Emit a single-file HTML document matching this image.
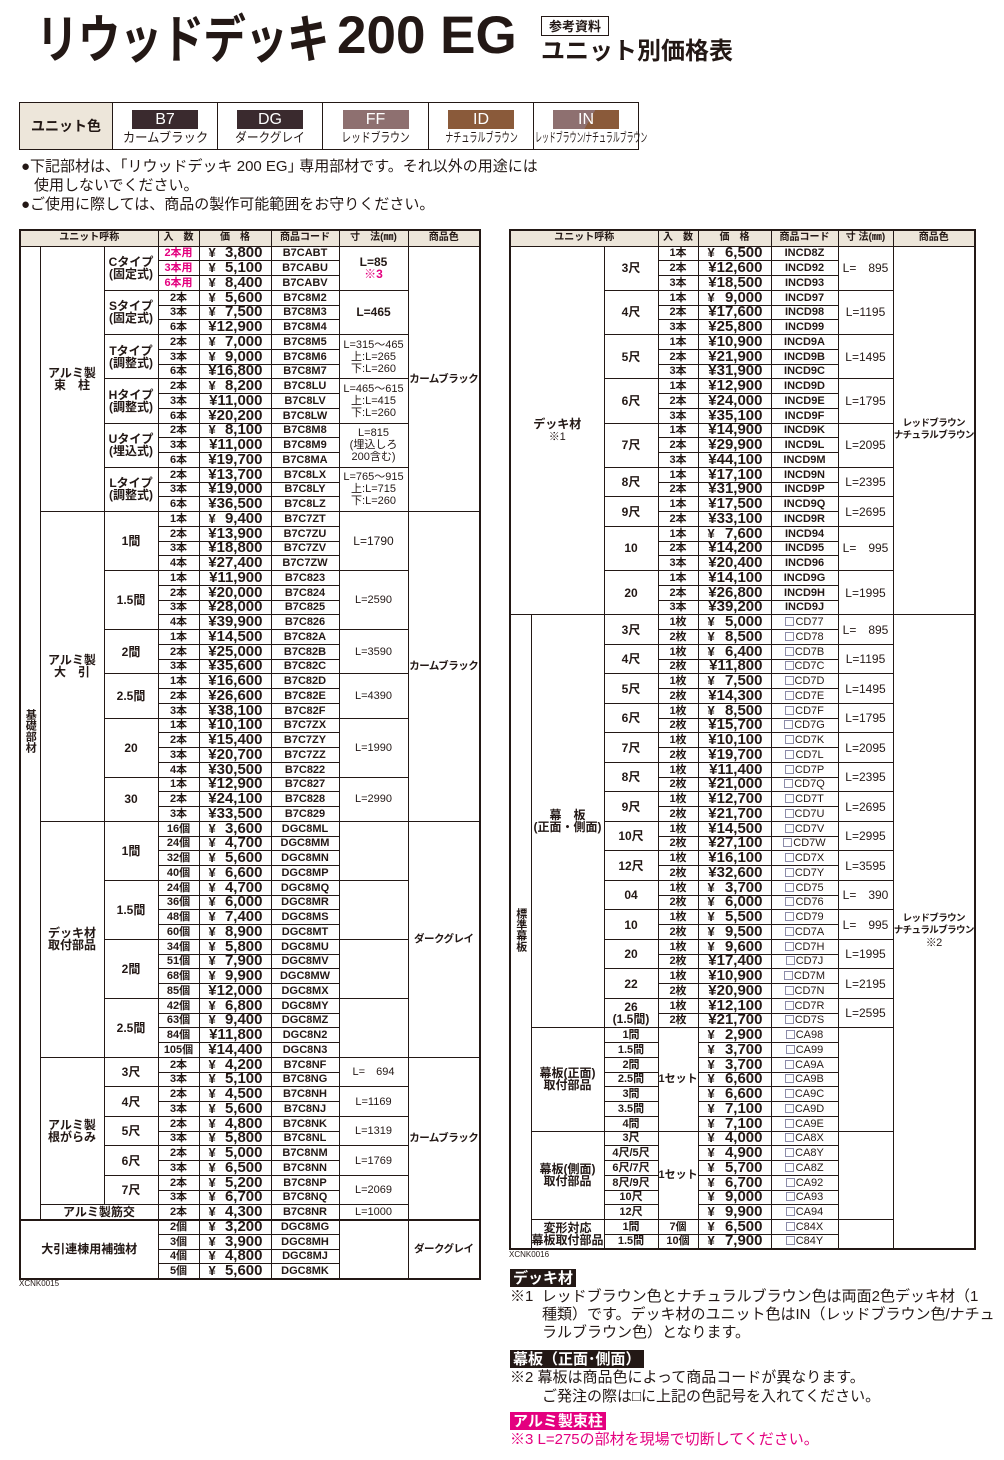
<!DOCTYPE html>
<html><head><meta charset="utf-8">
<style>
*{margin:0;padding:0;box-sizing:border-box}
body{width:1004px;height:1460px;background:#fff;position:relative;overflow:hidden;color:#231815;font-family:"Liberation Sans","Noto Sans CJK JP",sans-serif}
.abs{position:absolute}
.t1{left:36px;top:6px;font-size:52px;font-weight:bold;white-space:nowrap;line-height:60px;font-family:"Noto Sans CJK JP",sans-serif;transform:scaleX(0.82);transform-origin:left top;letter-spacing:-1px}
.t2{left:337px;top:6px;font-size:53px;font-weight:bold;line-height:60px;white-space:nowrap}
.ref{left:541px;top:16px;width:68px;height:20px;border:1.5px solid #231815;font-size:13px;font-weight:bold;text-align:center;line-height:17px;font-family:"Noto Sans CJK JP",sans-serif}
.sub{left:541px;top:33px;font-size:24px;font-weight:bold;line-height:32px;font-family:"Noto Sans CJK JP",sans-serif;white-space:nowrap}
table{border-collapse:collapse;table-layout:fixed;position:absolute}
td{border:1px solid #231815;padding:0;text-align:center;vertical-align:middle;overflow:hidden;white-space:nowrap;line-height:12px;font-size:11px;font-weight:bold;font-family:"Liberation Sans","Noto Sans CJK JP",sans-serif}
.ct td{line-height:14px;overflow:visible}
.hd td{background:#ede6da;font-size:10px;height:16px}
.p{font-size:15px;text-align:right;padding-right:8px}
.p span{float:left;margin-left:9px;font-size:13px}
.n{font-weight:normal;font-size:11px}
.pk{color:#e4007f}
.v{writing-mode:vertical-rl;text-orientation:upright;font-size:11px;letter-spacing:0}
.L tr{height:14.76px}
.R tr{height:14.76px}
.bx{display:inline-block;width:9px;height:9px;border:1px solid #8a8aa8;vertical-align:-1px;margin-right:1px}
.c{font-size:12px}
.col{font-size:10.5px;letter-spacing:-0.5px}
.colR{font-size:9.5px;letter-spacing:-0.6px;line-height:12px}
.note{font-size:15px;line-height:18.5px;white-space:nowrap;color:#231815;font-family:"Liberation Sans","Noto Sans CJK JP",sans-serif}
.lab{background:#231815;color:#fff;font-weight:bold;font-size:15px;line-height:18px;padding:0 3px;white-space:nowrap;font-family:"Noto Sans CJK JP",sans-serif}
.sw{margin:3px auto 2px;width:66px;height:19px;color:#fff;font-size:16px;font-weight:normal;line-height:19px}
.sl{font-size:13px;font-weight:normal;white-space:nowrap}
.sq{display:block;white-space:nowrap;transform-origin:center;font-size:13px;font-weight:normal}
</style></head><body>
<div class="abs t1">リウッドデッキ</div>
<div class="abs t2">200 EG</div>
<div class="abs ref">参考資料</div>
<div class="abs sub">ユニット別価格表</div>

<table class="ct" style="left:19px;top:102px;width:619px;height:48px;border:1.5px solid #231815">
<tr><td style="width:93px;background:#ede6da;font-size:14px">ユニット色</td>
<td style="width:105px"><div class="sw" style="background:#3a2a2e">B7</div><span class="sq" style="width:91px;margin-left:7px;transform:scaleX(0.95)">カームブラック</span></td>
<td style="width:105px"><div class="sw" style="background:#3a2a2e">DG</div><span class="sq" style="width:78px;margin-left:13px;transform:scaleX(0.9)">ダークグレイ</span></td>
<td style="width:106px"><div class="sw" style="background:#8e7070">FF</div><span class="sq" style="width:91px;margin-left:7px;transform:scaleX(0.75)">レッドブラウン</span></td>
<td style="width:105px"><div class="sw" style="background:#8a5a3a">ID</div><span class="sq" style="width:117px;margin-left:-6px;transform:scaleX(0.62)">ナチュラルブラウン</span></td>
<td style="width:105px"><div class="sw" style="background:linear-gradient(120deg,#8e7070 55%,#8a5a3a 55%)">IN</div><span class="sq" style="width:192px;margin-left:-44px;transform:scaleX(0.53)">レッドブラウン/ナチュラルブラウン</span></td></tr>
</table>

<div class="abs note" style="left:21px;top:158px">●下記部材は、｢リウッドデッキ 200 EG｣ 専用部材です。それ以外の用途には</div>
<div class="abs note" style="left:34px;top:177px">使用しないでください。</div>
<div class="abs note" style="left:21px;top:196px">●ご使用に際しては、商品の製作可能範囲をお守りください。</div>

<!-- LEFT TABLE -->
<table class="L" style="left:19px;top:229px;width:460px;border:2px solid #231815">
<colgroup><col style="width:20px"><col style="width:64px"><col style="width:54px"><col style="width:41px"><col style="width:72px"><col style="width:68px"><col style="width:69px"><col style="width:72px"></colgroup>
<tr class="hd"><td colspan="3">ユニット呼称</td><td>入　数</td><td>価　格</td><td>商品コード</td><td>寸　法(㎜)</td><td>商品色</td></tr>
<tr><td rowspan="66"><span class="v">基礎部材</span></td><td rowspan="18" class="c">アルミ製<br>束　柱</td><td rowspan="3" class="c">Cタイプ<br>(固定式)</td><td class="pk">2本用</td><td class="p"><span>¥</span>3,800</td><td>B7CABT</td><td rowspan="3" class="c">L=85<br><span class="pk">※3</span></td><td rowspan="18" class="col">カームブラック</td></tr>
<tr><td class="pk">3本用</td><td class="p"><span>¥</span>5,100</td><td>B7CABU</td></tr>
<tr><td class="pk">6本用</td><td class="p"><span>¥</span>8,400</td><td>B7CABV</td></tr>
<tr><td rowspan="3" class="c">Sタイプ<br>(固定式)</td><td>2本</td><td class="p"><span>¥</span>5,600</td><td>B7C8M2</td><td rowspan="3" class="c">L=465</td></tr>
<tr><td>3本</td><td class="p"><span>¥</span>7,500</td><td>B7C8M3</td></tr>
<tr><td>6本</td><td class="p">¥12,900</td><td>B7C8M4</td></tr>
<tr><td rowspan="3" class="c">Tタイプ<br>(調整式)</td><td>2本</td><td class="p"><span>¥</span>7,000</td><td>B7C8M5</td><td rowspan="3" class="n">L=315～465<br>上:L=265<br>下:L=260</td></tr>
<tr><td>3本</td><td class="p"><span>¥</span>9,000</td><td>B7C8M6</td></tr>
<tr><td>6本</td><td class="p">¥16,800</td><td>B7C8M7</td></tr>
<tr><td rowspan="3" class="c">Hタイプ<br>(調整式)</td><td>2本</td><td class="p"><span>¥</span>8,200</td><td>B7C8LU</td><td rowspan="3" class="n">L=465～615<br>上:L=415<br>下:L=260</td></tr>
<tr><td>3本</td><td class="p">¥11,000</td><td>B7C8LV</td></tr>
<tr><td>6本</td><td class="p">¥20,200</td><td>B7C8LW</td></tr>
<tr><td rowspan="3" class="c">Uタイプ<br>(埋込式)</td><td>2本</td><td class="p"><span>¥</span>8,100</td><td>B7C8M8</td><td rowspan="3" class="n">L=815<br>(埋込しろ<br>200含む)</td></tr>
<tr><td>3本</td><td class="p">¥11,000</td><td>B7C8M9</td></tr>
<tr><td>6本</td><td class="p">¥19,700</td><td>B7C8MA</td></tr>
<tr><td rowspan="3" class="c">Lタイプ<br>(調整式)</td><td>2本</td><td class="p">¥13,700</td><td>B7C8LX</td><td rowspan="3" class="n">L=765～915<br>上:L=715<br>下:L=260</td></tr>
<tr><td>3本</td><td class="p">¥19,000</td><td>B7C8LY</td></tr>
<tr><td>6本</td><td class="p">¥36,500</td><td>B7C8LZ</td></tr>

<tr><td rowspan="21" class="c">アルミ製<br>大　引</td><td rowspan="4" class="c">1間</td><td>1本</td><td class="p"><span>¥</span>9,400</td><td>B7C7ZT</td><td rowspan="4" class="c n">L=1790</td><td rowspan="21" class="col">カームブラック</td></tr>
<tr><td>2本</td><td class="p">¥13,900</td><td>B7C7ZU</td></tr>
<tr><td>3本</td><td class="p">¥18,800</td><td>B7C7ZV</td></tr>
<tr><td>4本</td><td class="p">¥27,400</td><td>B7C7ZW</td></tr>
<tr><td rowspan="4" class="c">1.5間</td><td>1本</td><td class="p">¥11,900</td><td>B7C823</td><td rowspan="4" class="n">L=2590</td></tr>
<tr><td>2本</td><td class="p">¥20,000</td><td>B7C824</td></tr>
<tr><td>3本</td><td class="p">¥28,000</td><td>B7C825</td></tr>
<tr><td>4本</td><td class="p">¥39,900</td><td>B7C826</td></tr>
<tr><td rowspan="3" class="c">2間</td><td>1本</td><td class="p">¥14,500</td><td>B7C82A</td><td rowspan="3" class="n">L=3590</td></tr>
<tr><td>2本</td><td class="p">¥25,000</td><td>B7C82B</td></tr>
<tr><td>3本</td><td class="p">¥35,600</td><td>B7C82C</td></tr>
<tr><td rowspan="3" class="c">2.5間</td><td>1本</td><td class="p">¥16,600</td><td>B7C82D</td><td rowspan="3" class="n">L=4390</td></tr>
<tr><td>2本</td><td class="p">¥26,600</td><td>B7C82E</td></tr>
<tr><td>3本</td><td class="p">¥38,100</td><td>B7C82F</td></tr>
<tr><td rowspan="4" class="c">20</td><td>1本</td><td class="p">¥10,100</td><td>B7C7ZX</td><td rowspan="4" class="n">L=1990</td></tr>
<tr><td>2本</td><td class="p">¥15,400</td><td>B7C7ZY</td></tr>
<tr><td>3本</td><td class="p">¥20,700</td><td>B7C7ZZ</td></tr>
<tr><td>4本</td><td class="p">¥30,500</td><td>B7C822</td></tr>
<tr><td rowspan="3" class="c">30</td><td>1本</td><td class="p">¥12,900</td><td>B7C827</td><td rowspan="3" class="n">L=2990</td></tr>
<tr><td>2本</td><td class="p">¥24,100</td><td>B7C828</td></tr>
<tr><td>3本</td><td class="p">¥33,500</td><td>B7C829</td></tr>

<tr><td rowspan="16" class="c">デッキ材<br>取付部品</td><td rowspan="4" class="c">1間</td><td>16個</td><td class="p"><span>¥</span>3,600</td><td>DGC8ML</td><td rowspan="4"></td><td rowspan="16" class="col">ダークグレイ</td></tr>
<tr><td>24個</td><td class="p"><span>¥</span>4,700</td><td>DGC8MM</td></tr>
<tr><td>32個</td><td class="p"><span>¥</span>5,600</td><td>DGC8MN</td></tr>
<tr><td>40個</td><td class="p"><span>¥</span>6,600</td><td>DGC8MP</td></tr>
<tr><td rowspan="4" class="c">1.5間</td><td>24個</td><td class="p"><span>¥</span>4,700</td><td>DGC8MQ</td><td rowspan="4"></td></tr>
<tr><td>36個</td><td class="p"><span>¥</span>6,000</td><td>DGC8MR</td></tr>
<tr><td>48個</td><td class="p"><span>¥</span>7,400</td><td>DGC8MS</td></tr>
<tr><td>60個</td><td class="p"><span>¥</span>8,900</td><td>DGC8MT</td></tr>
<tr><td rowspan="4" class="c">2間</td><td>34個</td><td class="p"><span>¥</span>5,800</td><td>DGC8MU</td><td rowspan="4"></td></tr>
<tr><td>51個</td><td class="p"><span>¥</span>7,900</td><td>DGC8MV</td></tr>
<tr><td>68個</td><td class="p"><span>¥</span>9,900</td><td>DGC8MW</td></tr>
<tr><td>85個</td><td class="p">¥12,000</td><td>DGC8MX</td></tr>
<tr><td rowspan="4" class="c">2.5間</td><td>42個</td><td class="p"><span>¥</span>6,800</td><td>DGC8MY</td><td rowspan="4"></td></tr>
<tr><td>63個</td><td class="p"><span>¥</span>9,400</td><td>DGC8MZ</td></tr>
<tr><td>84個</td><td class="p">¥11,800</td><td>DGC8N2</td></tr>
<tr><td>105個</td><td class="p">¥14,400</td><td>DGC8N3</td></tr>

<tr><td rowspan="10" class="c">アルミ製<br>根がらみ</td><td rowspan="2" class="c">3尺</td><td>2本</td><td class="p"><span>¥</span>4,200</td><td>B7C8NF</td><td rowspan="2" class="n">L=　694</td><td rowspan="11" class="col">カームブラック</td></tr>
<tr><td>3本</td><td class="p"><span>¥</span>5,100</td><td>B7C8NG</td></tr>
<tr><td rowspan="2" class="c">4尺</td><td>2本</td><td class="p"><span>¥</span>4,500</td><td>B7C8NH</td><td rowspan="2" class="n">L=1169</td></tr>
<tr><td>3本</td><td class="p"><span>¥</span>5,600</td><td>B7C8NJ</td></tr>
<tr><td rowspan="2" class="c">5尺</td><td>2本</td><td class="p"><span>¥</span>4,800</td><td>B7C8NK</td><td rowspan="2" class="n">L=1319</td></tr>
<tr><td>3本</td><td class="p"><span>¥</span>5,800</td><td>B7C8NL</td></tr>
<tr><td rowspan="2" class="c">6尺</td><td>2本</td><td class="p"><span>¥</span>5,000</td><td>B7C8NM</td><td rowspan="2" class="n">L=1769</td></tr>
<tr><td>3本</td><td class="p"><span>¥</span>6,500</td><td>B7C8NN</td></tr>
<tr><td rowspan="2" class="c">7尺</td><td>2本</td><td class="p"><span>¥</span>5,200</td><td>B7C8NP</td><td rowspan="2" class="n">L=2069</td></tr>
<tr><td>3本</td><td class="p"><span>¥</span>6,700</td><td>B7C8NQ</td></tr>
<tr><td colspan="2" class="c">アルミ製筋交</td><td>2本</td><td class="p"><span>¥</span>4,300</td><td>B7C8NR</td><td class="n">L=1000</td></tr>
<tr style="border-top:2px solid #231815"><td colspan="3" rowspan="4" class="c">大引連棟用補強材</td><td>2個</td><td class="p"><span>¥</span>3,200</td><td>DGC8MG</td><td rowspan="4"></td><td rowspan="4" class="col">ダークグレイ</td></tr>
<tr><td>3個</td><td class="p"><span>¥</span>3,900</td><td>DGC8MH</td></tr>
<tr><td>4個</td><td class="p"><span>¥</span>4,800</td><td>DGC8MJ</td></tr>
<tr><td>5個</td><td class="p"><span>¥</span>5,600</td><td>DGC8MK</td></tr>
</table>
<div class="abs" style="left:19px;top:1279px;font-size:8px">XCNK0015</div>

<!-- RIGHT TABLE -->
<table class="R" style="left:509px;top:229px;width:465px;border:2px solid #231815">
<colgroup><col style="width:21px"><col style="width:73px"><col style="width:54px"><col style="width:40px"><col style="width:73px"><col style="width:67px"><col style="width:55px"><col style="width:82px"></colgroup>
<tr class="hd"><td colspan="3">ユニット呼称</td><td>入　数</td><td>価　格</td><td>商品コード</td><td>寸 法(㎜)</td><td>商品色</td></tr>
<tr><td colspan="2" rowspan="25" class="c">デッキ材<br><span class="n">※1</span></td><td rowspan="3" class="c">3尺</td><td>1本</td><td class="p"><span>¥</span>6,500</td><td>INCD8Z</td><td rowspan="3" class="c n">L=　895</td><td rowspan="25" class="colR">レッドブラウン<br>ナチュラルブラウン</td></tr>
<tr><td>2本</td><td class="p">¥12,600</td><td>INCD92</td></tr>
<tr><td>3本</td><td class="p">¥18,500</td><td>INCD93</td></tr>
<tr><td rowspan="3" class="c">4尺</td><td>1本</td><td class="p"><span>¥</span>9,000</td><td>INCD97</td><td rowspan="3" class="c n">L=1195</td></tr>
<tr><td>2本</td><td class="p">¥17,600</td><td>INCD98</td></tr>
<tr><td>3本</td><td class="p">¥25,800</td><td>INCD99</td></tr>
<tr><td rowspan="3" class="c">5尺</td><td>1本</td><td class="p">¥10,900</td><td>INCD9A</td><td rowspan="3" class="c n">L=1495</td></tr>
<tr><td>2本</td><td class="p">¥21,900</td><td>INCD9B</td></tr>
<tr><td>3本</td><td class="p">¥31,900</td><td>INCD9C</td></tr>
<tr><td rowspan="3" class="c">6尺</td><td>1本</td><td class="p">¥12,900</td><td>INCD9D</td><td rowspan="3" class="c n">L=1795</td></tr>
<tr><td>2本</td><td class="p">¥24,000</td><td>INCD9E</td></tr>
<tr><td>3本</td><td class="p">¥35,100</td><td>INCD9F</td></tr>
<tr><td rowspan="3" class="c">7尺</td><td>1本</td><td class="p">¥14,900</td><td>INCD9K</td><td rowspan="3" class="c n">L=2095</td></tr>
<tr><td>2本</td><td class="p">¥29,900</td><td>INCD9L</td></tr>
<tr><td>3本</td><td class="p">¥44,100</td><td>INCD9M</td></tr>
<tr><td rowspan="2" class="c">8尺</td><td>1本</td><td class="p">¥17,100</td><td>INCD9N</td><td rowspan="2" class="c n">L=2395</td></tr>
<tr><td>2本</td><td class="p">¥31,900</td><td>INCD9P</td></tr>
<tr><td rowspan="2" class="c">9尺</td><td>1本</td><td class="p">¥17,500</td><td>INCD9Q</td><td rowspan="2" class="c n">L=2695</td></tr>
<tr><td>2本</td><td class="p">¥33,100</td><td>INCD9R</td></tr>
<tr><td rowspan="3" class="c">10</td><td>1本</td><td class="p"><span>¥</span>7,600</td><td>INCD94</td><td rowspan="3" class="c n">L=　995</td></tr>
<tr><td>2本</td><td class="p">¥14,200</td><td>INCD95</td></tr>
<tr><td>3本</td><td class="p">¥20,400</td><td>INCD96</td></tr>
<tr><td rowspan="3" class="c">20</td><td>1本</td><td class="p">¥14,100</td><td>INCD9G</td><td rowspan="3" class="c n">L=1995</td></tr>
<tr><td>2本</td><td class="p">¥26,800</td><td>INCD9H</td></tr>
<tr><td>3本</td><td class="p">¥39,200</td><td>INCD9J</td></tr>

<tr><td rowspan="43"><span class="v">標準幕板</span></td><td rowspan="28" class="c">幕　板<br>(正面・側面)</td><td rowspan="2" class="c">3尺</td><td>1枚</td><td class="p"><span>¥</span>5,000</td><td class="n"><i class="bx"></i>CD77</td><td rowspan="2" class="c n">L=　895</td><td rowspan="43" class="colR">レッドブラウン<br>ナチュラルブラウン<br><span class="n">※2</span></td></tr>
<tr><td>2枚</td><td class="p"><span>¥</span>8,500</td><td class="n"><i class="bx"></i>CD78</td></tr>
<tr><td rowspan="2" class="c">4尺</td><td>1枚</td><td class="p"><span>¥</span>6,400</td><td class="n"><i class="bx"></i>CD7B</td><td rowspan="2" class="c n">L=1195</td></tr>
<tr><td>2枚</td><td class="p">¥11,800</td><td class="n"><i class="bx"></i>CD7C</td></tr>
<tr><td rowspan="2" class="c">5尺</td><td>1枚</td><td class="p"><span>¥</span>7,500</td><td class="n"><i class="bx"></i>CD7D</td><td rowspan="2" class="c n">L=1495</td></tr>
<tr><td>2枚</td><td class="p">¥14,300</td><td class="n"><i class="bx"></i>CD7E</td></tr>
<tr><td rowspan="2" class="c">6尺</td><td>1枚</td><td class="p"><span>¥</span>8,500</td><td class="n"><i class="bx"></i>CD7F</td><td rowspan="2" class="c n">L=1795</td></tr>
<tr><td>2枚</td><td class="p">¥15,700</td><td class="n"><i class="bx"></i>CD7G</td></tr>
<tr><td rowspan="2" class="c">7尺</td><td>1枚</td><td class="p">¥10,100</td><td class="n"><i class="bx"></i>CD7K</td><td rowspan="2" class="c n">L=2095</td></tr>
<tr><td>2枚</td><td class="p">¥19,700</td><td class="n"><i class="bx"></i>CD7L</td></tr>
<tr><td rowspan="2" class="c">8尺</td><td>1枚</td><td class="p">¥11,400</td><td class="n"><i class="bx"></i>CD7P</td><td rowspan="2" class="c n">L=2395</td></tr>
<tr><td>2枚</td><td class="p">¥21,000</td><td class="n"><i class="bx"></i>CD7Q</td></tr>
<tr><td rowspan="2" class="c">9尺</td><td>1枚</td><td class="p">¥12,700</td><td class="n"><i class="bx"></i>CD7T</td><td rowspan="2" class="c n">L=2695</td></tr>
<tr><td>2枚</td><td class="p">¥21,700</td><td class="n"><i class="bx"></i>CD7U</td></tr>
<tr><td rowspan="2" class="c">10尺</td><td>1枚</td><td class="p">¥14,500</td><td class="n"><i class="bx"></i>CD7V</td><td rowspan="2" class="c n">L=2995</td></tr>
<tr><td>2枚</td><td class="p">¥27,100</td><td class="n"><i class="bx"></i>CD7W</td></tr>
<tr><td rowspan="2" class="c">12尺</td><td>1枚</td><td class="p">¥16,100</td><td class="n"><i class="bx"></i>CD7X</td><td rowspan="2" class="c n">L=3595</td></tr>
<tr><td>2枚</td><td class="p">¥32,600</td><td class="n"><i class="bx"></i>CD7Y</td></tr>
<tr><td rowspan="2" class="c">04</td><td>1枚</td><td class="p"><span>¥</span>3,700</td><td class="n"><i class="bx"></i>CD75</td><td rowspan="2" class="c n">L=　390</td></tr>
<tr><td>2枚</td><td class="p"><span>¥</span>6,000</td><td class="n"><i class="bx"></i>CD76</td></tr>
<tr><td rowspan="2" class="c">10</td><td>1枚</td><td class="p"><span>¥</span>5,500</td><td class="n"><i class="bx"></i>CD79</td><td rowspan="2" class="c n">L=　995</td></tr>
<tr><td>2枚</td><td class="p"><span>¥</span>9,500</td><td class="n"><i class="bx"></i>CD7A</td></tr>
<tr><td rowspan="2" class="c">20</td><td>1枚</td><td class="p"><span>¥</span>9,600</td><td class="n"><i class="bx"></i>CD7H</td><td rowspan="2" class="c n">L=1995</td></tr>
<tr><td>2枚</td><td class="p">¥17,400</td><td class="n"><i class="bx"></i>CD7J</td></tr>
<tr><td rowspan="2" class="c">22</td><td>1枚</td><td class="p">¥10,900</td><td class="n"><i class="bx"></i>CD7M</td><td rowspan="2" class="c n">L=2195</td></tr>
<tr><td>2枚</td><td class="p">¥20,900</td><td class="n"><i class="bx"></i>CD7N</td></tr>
<tr><td rowspan="2" class="c">26<br>(1.5間)</td><td>1枚</td><td class="p">¥12,100</td><td class="n"><i class="bx"></i>CD7R</td><td rowspan="2" class="c n">L=2595</td></tr>
<tr><td>2枚</td><td class="p">¥21,700</td><td class="n"><i class="bx"></i>CD7S</td></tr>

<tr><td rowspan="7" class="c">幕板(正面)<br>取付部品</td><td>1間</td><td rowspan="7">1セット</td><td class="p"><span>¥</span>2,900</td><td class="n"><i class="bx"></i>CA98</td><td rowspan="7"></td></tr>
<tr><td>1.5間</td><td class="p"><span>¥</span>3,700</td><td class="n"><i class="bx"></i>CA99</td></tr>
<tr><td>2間</td><td class="p"><span>¥</span>3,700</td><td class="n"><i class="bx"></i>CA9A</td></tr>
<tr><td>2.5間</td><td class="p"><span>¥</span>6,600</td><td class="n"><i class="bx"></i>CA9B</td></tr>
<tr><td>3間</td><td class="p"><span>¥</span>6,600</td><td class="n"><i class="bx"></i>CA9C</td></tr>
<tr><td>3.5間</td><td class="p"><span>¥</span>7,100</td><td class="n"><i class="bx"></i>CA9D</td></tr>
<tr><td>4間</td><td class="p"><span>¥</span>7,100</td><td class="n"><i class="bx"></i>CA9E</td></tr>
<tr><td rowspan="6" class="c">幕板(側面)<br>取付部品</td><td>3尺</td><td rowspan="6">1セット</td><td class="p"><span>¥</span>4,000</td><td class="n"><i class="bx"></i>CA8X</td><td rowspan="6"></td></tr>
<tr><td>4尺/5尺</td><td class="p"><span>¥</span>4,900</td><td class="n"><i class="bx"></i>CA8Y</td></tr>
<tr><td>6尺/7尺</td><td class="p"><span>¥</span>5,700</td><td class="n"><i class="bx"></i>CA8Z</td></tr>
<tr><td>8尺/9尺</td><td class="p"><span>¥</span>6,700</td><td class="n"><i class="bx"></i>CA92</td></tr>
<tr><td>10尺</td><td class="p"><span>¥</span>9,000</td><td class="n"><i class="bx"></i>CA93</td></tr>
<tr><td>12尺</td><td class="p"><span>¥</span>9,900</td><td class="n"><i class="bx"></i>CA94</td></tr>
<tr><td rowspan="2" class="c">変形対応<br>幕板取付部品</td><td>1間</td><td>7個</td><td class="p"><span>¥</span>6,500</td><td class="n"><i class="bx"></i>C84X</td><td rowspan="2"></td></tr>
<tr><td>1.5間</td><td>10個</td><td class="p"><span>¥</span>7,900</td><td class="n"><i class="bx"></i>C84Y</td></tr>
</table>
<div class="abs" style="left:509px;top:1250px;font-size:8px">XCNK0016</div>

<div class="abs lab" style="left:510px;top:1269px">デッキ材</div>
<div class="abs note" style="left:510px;top:1288px">※1&nbsp; レッドブラウン色とナチュラルブラウン色は両面2色デッキ材（1</div>
<div class="abs note" style="left:542px;top:1306px">種類）です。デッキ材のユニット色はIN（レッドブラウン色/ナチュ</div>
<div class="abs note" style="left:542px;top:1324px">ラルブラウン色）となります。</div>
<div class="abs lab" style="left:510px;top:1350px">幕板（正面･側面）</div>
<div class="abs note" style="left:510px;top:1369px">※2 幕板は商品色によって商品コードが異なります。</div>
<div class="abs note" style="left:542px;top:1388px">ご発注の際は□に上記の色記号を入れてください。</div>
<div class="abs lab" style="left:510px;top:1412px;background:#e4007f">アルミ製束柱</div>
<div class="abs note" style="left:510px;top:1431px;color:#e4007f">※3 L=275の部材を現場で切断してください。</div>
</body></html>
